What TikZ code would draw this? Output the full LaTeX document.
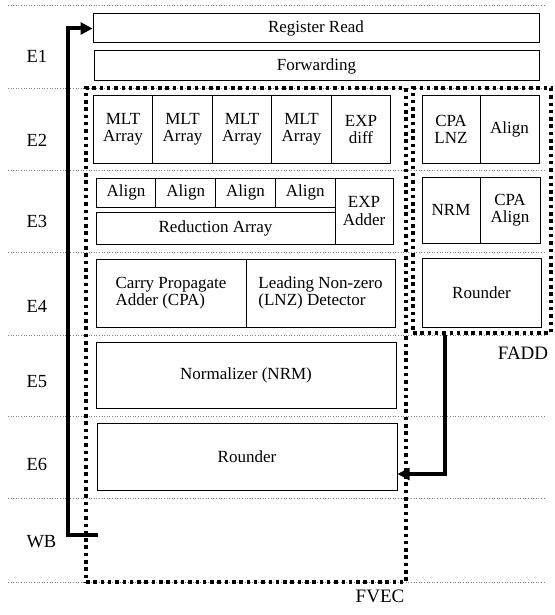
\documentclass[tikz,border=0pt]{standalone}
\usepackage{fontspec}
\setmainfont{Liberation Serif}
\usetikzlibrary{positioning, arrows.meta}
\tikzset{
  unit/.style={
    draw, rectangle, line width=1pt,
    inner sep=0pt, align=center,
    font=\fontsize{17}{17.5}\selectfont
  },
  grp/.style={
    draw, rectangle, line width=3.5pt,
    dash pattern=on 3.5pt off 3.8pt, inner sep=0pt
  },
  sepline/.style={gray, line width=0.6pt, dotted},
  stagelbl/.style={font=\fontsize{18.5}{20}\selectfont, anchor=west},
  grplbl/.style={font=\fontsize{19}{20}\selectfont},
  backarr/.style={-{Triangle[length=12pt, width=12pt]}, line width=4pt},
}
\begin{document}
\begin{tikzpicture}[x=1pt, y=-1pt]
  \useasboundingbox (0,0) rectangle (554,615);
  % stage separators
  \foreach \sy in {5, 88, 170, 252, 335, 416, 498, 582}{
    \draw[sepline] (8,\sy) -- (546,\sy);
  }
  \foreach \lbl/\ly in {E1/56, E2/140, E3/221, E4/306, E5/382, E6/464, WB/542}{
    \node[stagelbl] (lbl\lbl) at (23,\ly) {\lbl};
  }
  % E1
  \node[unit, minimum width=446pt, minimum height=29pt] (rr) at (316,28.5) {Register Read};
  \node[unit, minimum width=445pt, minimum height=30pt] (fwd) at (316.5,66) {Forwarding};
  % E2
  \foreach \idx/\cx in {1/123, 2/182.5, 3/242, 4/301.5}{
    \node[unit, minimum width=59.5pt, minimum height=67pt] (mlt\idx) at (\cx,129.5) {MLT\\Array};
  }
  \node[unit, minimum width=59.5pt, minimum height=67pt] (expd) at (361,129.5) {EXP\\diff};
  \node[unit, minimum width=58pt, minimum height=67pt] (fcpa) at (451,129.5) {CPA\\LNZ};
  \node[unit, minimum width=59pt, minimum height=67pt] (falgn) at (509.5,129.5) {Align};
  % E3
  \foreach \idx/\cx in {1/126, 2/185.75, 3/245.5, 4/305.25}{
    \node[unit, minimum width=59.75pt, minimum height=29pt] (algn\idx) at (\cx,192.5) {Align};
  }
  \node[unit, minimum width=239pt, minimum height=32pt] (red) at (215.5,228) {Reduction Array};
  \node[unit, minimum width=58pt, minimum height=66pt] (expa) at (364,211) {EXP\\Adder};
  \node[unit, minimum width=58pt, minimum height=66pt] (fnrm) at (451,210) {NRM};
  \node[unit, minimum width=60pt, minimum height=66pt] (fcpaa) at (510,210) {CPA\\Align};
  % E4
  \node[unit, align=left, minimum width=150pt, minimum height=68pt] (cpa) at (171,293) {Carry Propagate\\Adder (CPA)};
  \node[unit, align=left, minimum width=149pt, minimum height=68pt] (lnz) at (320.5,293) {Leading Non-zero\\(LNZ) Detector};
  \node[unit, minimum width=119pt, minimum height=69pt] (frnd) at (481.5,292.5) {Rounder};
  % E5, E6
  \node[unit, minimum width=300pt, minimum height=66pt] (nrm) at (246,375) {Normalizer (NRM)};
  \node[unit, minimum width=300pt, minimum height=67pt] (rnd) at (247,456.5) {Rounder};
  % units
  \node[grp, minimum width=320pt, minimum height=494pt] (fvec) at (246,335) {};
  \node[grp, minimum width=138pt, minimum height=245pt] (fadd) at (482,210.5) {};
  \node[grplbl] (fveclbl) at (380,596) {FVEC};
  \node[grplbl] (faddlbl) at (523,353) {FADD};
  % write back and bypass
  \coordinate (wbtap) at (98,535);
  \coordinate (wbturn) at (68,535);
  \draw[backarr] (wbtap) -- (wbturn) |- (rr.west);
  \draw[backarr] ([xshift=-37pt]fadd.south) |- ([yshift=-17.5pt]rnd.east);
\end{tikzpicture}
\end{document}
